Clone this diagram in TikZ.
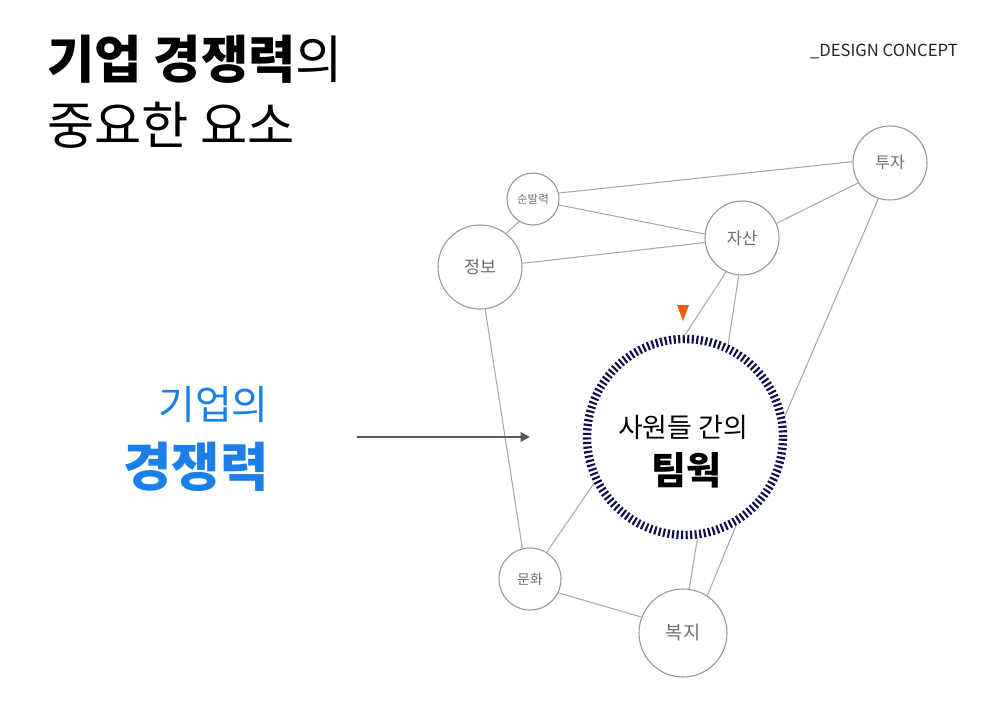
\documentclass[tikz,border=0pt]{standalone}
\usepackage{fontspec}
\setmainfont{Noto Sans CJK KR}
\usetikzlibrary{arrows.meta,backgrounds}
\definecolor{navy}{RGB}{15,15,75}
\definecolor{kblue}{RGB}{26,127,232}
\definecolor{korange}{RGB}{240,96,0}
\definecolor{linegray}{RGB}{170,170,170}
\definecolor{circgray}{RGB}{150,150,150}
\definecolor{labgray}{RGB}{110,110,110}
\begin{document}
\begin{tikzpicture}[x=0.75pt,y=-0.75pt,
  bub/.style={circle,draw=circgray,line width=0.8pt,fill=white,inner sep=0pt,text=labgray},
  link/.style={draw=linegray,line width=0.8pt},
  ring/.style={circle,draw=navy,line width=6.3pt,dash pattern=on 1.6pt off 1.8pt,inner sep=0pt,minimum size=147pt},
  txt/.style={inner sep=0pt}]
\begin{scope}[on background layer]
\fill[white] (0,0) rectangle (1000,707);
\end{scope}
\useasboundingbox (0,0) rectangle (1000,707);

% titles
\node[txt,anchor=base west] (t1) at (47,78) {\fontsize{38.6pt}{44pt}\selectfont\bfseries 기업 경쟁력\mdseries 의};
\node[txt,anchor=base west] (t2) at (47,144) {\fontsize{38.5pt}{44pt}\selectfont 중요한 요소};
\node[txt,anchor=base east,text=black!85] (dc) at (958,56) {\fontsize{12.5pt}{14pt}\selectfont \_DESIGN CONCEPT};

\node[txt,anchor=base east,text=kblue] (l1) at (269,419) {\fontsize{30pt}{34pt}\selectfont 기업의};
\node[txt,anchor=base east,text=kblue] (l2) at (269,486) {\fontsize{39.5pt}{44pt}\selectfont\bfseries 경쟁력};

% bubbles
\node[bub,minimum size=55.5pt] (tuja) at (890,163) {\fontsize{12pt}{13pt}\selectfont 투자};
\node[bub,minimum size=39pt] (sun) at (533,199) {\fontsize{8.6pt}{9pt}\selectfont 순발력};
\node[bub,minimum size=55.5pt] (jasan) at (742,238) {\fontsize{12.4pt}{13pt}\selectfont 자산};
\node[bub,minimum size=63pt] (jeongbo) at (480,267) {\fontsize{13pt}{14pt}\selectfont 정보};
\node[bub,minimum size=46.5pt] (munhwa) at (530,579) {\fontsize{10.2pt}{11pt}\selectfont 문화};
\node[bub,minimum size=66pt] (bokji) at (683,633) {\fontsize{14pt}{15pt}\selectfont 복지};
\node[ring] (team) at (685,437) {};

\node[txt,anchor=base] (c1) at (683,437) {\fontsize{20.2pt}{23pt}\selectfont 사원들 간의};
\node[txt,anchor=base] (c2) at (686,484) {\fontsize{28.5pt}{31pt}\selectfont\bfseries 팀웍};

% links
\begin{scope}[on background layer]
\draw[link] (sun.13) -- (tuja.178);
\draw[link] (sun.347) -- (jasan.174);
\draw[link] (sun.238) -- (jeongbo.52);
\draw[link] (jeongbo.5) -- (jasan.187);
\draw[link] (jasan.23) -- (tuja.212);
\draw[link] (jasan.245) -- (team.90);
\draw[link] (jasan.265) -- (team.65);
\draw[link] (tuja.252) -- (team.12);
\draw[link] (jeongbo.277) -- (munhwa.104);
\draw[link] (munhwa.58) -- (team.207);
\draw[link] (munhwa.334) -- (bokji.159);
\draw[link] (team.277) -- (bokji.82);
\draw[link] (team.300) -- (bokji.57);
\end{scope}

% pointer
\fill[korange] (677,305) -- (689,305) -- (683,321) -- cycle;

% arrow
\coordinate (as) at (357,437);
\coordinate (ae) at (530,437);
\draw[draw=black!65,line width=1.5pt,-{Triangle[length=7pt,width=7pt]}] (as) -- (ae);
\end{tikzpicture}
\end{document}
